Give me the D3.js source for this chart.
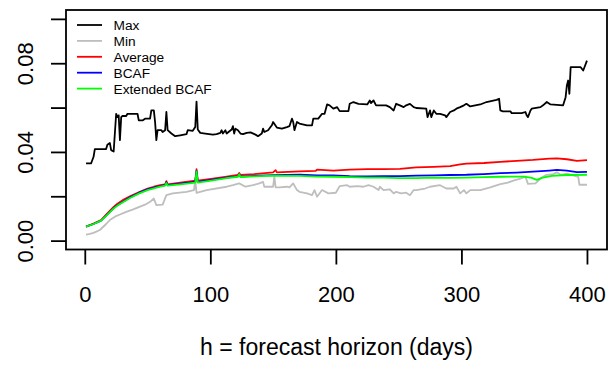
<!DOCTYPE html>
<html>
<head>
<meta charset="utf-8">
<script src="https://cdn.jsdelivr.net/npm/d3@7"></script>
<style>
  body { margin: 0; background: #fff; }
  svg { display: block; font-family: "Liberation Sans", Arial, sans-serif; }
</style>
</head>
<body>
<svg id="chart" width="609" height="369"></svg>
<script>
// values, day -> value
var maxDays = [1, 5, 7, 8, 17, 18, 20, 21, 23, 25, 26, 27, 28, 29, 30, 33, 34, 42, 43, 46, 48, 52, 53, 55, 56, 57, 58, 61, 62, 64, 65, 66, 69, 72, 76, 81, 82, 86, 88, 89, 90, 92, 96, 102, 105, 108, 109, 110, 112, 113, 117, 118, 119, 120, 122, 124, 126, 129, 132, 136, 138, 141, 142, 143, 146, 149, 150, 153, 157, 161, 163, 165, 166, 167, 169, 171, 177, 181, 182, 186, 189, 191, 193, 195, 198, 201, 203, 210, 211, 214, 218, 225, 227, 228, 230, 232, 240, 243, 246, 248, 251, 254, 256, 259, 262, 264, 272, 273, 275, 276, 278, 280, 283, 287, 288, 291, 294, 296, 299, 302, 304, 307, 315, 320, 328, 330, 331, 333, 339, 340, 348, 351, 352, 353, 355, 356, 363, 365, 368, 371, 381, 383, 384, 385, 386, 387, 395, 397, 398, 400];
var maxValues = [0.0348, 0.0348, 0.0378, 0.0413, 0.0413, 0.0432, 0.0440, 0.0408, 0.0402, 0.0572, 0.0557, 0.0565, 0.0453, 0.0557, 0.0562, 0.0562, 0.0572, 0.0572, 0.0542, 0.0542, 0.0550, 0.0550, 0.0587, 0.0587, 0.0535, 0.0453, 0.0498, 0.0498, 0.0490, 0.0498, 0.0580, 0.0498, 0.0483, 0.0471, 0.0475, 0.0480, 0.0498, 0.0495, 0.0512, 0.0627, 0.0501, 0.0486, 0.0483, 0.0478, 0.0480, 0.0486, 0.0498, 0.0483, 0.0498, 0.0483, 0.0501, 0.0516, 0.0483, 0.0505, 0.0498, 0.0483, 0.0480, 0.0486, 0.0488, 0.0478, 0.0471, 0.0483, 0.0505, 0.0490, 0.0498, 0.0520, 0.0535, 0.0510, 0.0505, 0.0512, 0.0516, 0.0550, 0.0535, 0.0498, 0.0535, 0.0528, 0.0520, 0.0520, 0.0550, 0.0550, 0.0572, 0.0572, 0.0614, 0.0610, 0.0595, 0.0602, 0.0584, 0.0584, 0.0617, 0.0625, 0.0617, 0.0614, 0.0632, 0.0620, 0.0632, 0.0610, 0.0610, 0.0602, 0.0587, 0.0617, 0.0610, 0.0602, 0.0610, 0.0617, 0.0602, 0.0598, 0.0595, 0.0557, 0.0587, 0.0557, 0.0587, 0.0572, 0.0572, 0.0565, 0.0557, 0.0580, 0.0587, 0.0595, 0.0602, 0.0610, 0.0617, 0.0605, 0.0614, 0.0625, 0.0635, 0.0640, 0.0587, 0.0583, 0.0583, 0.0575, 0.0575, 0.0580, 0.0565, 0.0557, 0.0587, 0.0595, 0.0602, 0.0610, 0.0625, 0.0614, 0.0610, 0.0647, 0.0700, 0.0722, 0.0662, 0.0782, 0.0782, 0.0767, 0.0782, 0.0812];

var minDays = [1, 4, 7, 12, 17, 20, 24, 28, 33, 38, 44, 48, 52, 55, 57, 62, 65, 70, 81, 87, 88, 89, 97, 113, 118, 123, 128, 134, 139, 142, 143, 150, 151, 152, 155, 161, 163, 166, 169, 171, 177, 181, 183, 185, 189, 194, 200, 203, 209, 211, 217, 222, 226, 230, 234, 235, 238, 243, 246, 248, 252, 256, 259, 262, 264, 271, 275, 283, 288, 294, 296, 299, 302, 304, 307, 315, 323, 331, 337, 342, 347, 351, 353, 359, 363, 367, 373, 376, 379, 384, 389, 393, 394, 400];
var minValues = [0.0027, 0.0030, 0.0035, 0.0048, 0.0075, 0.0093, 0.0108, 0.0118, 0.0130, 0.0140, 0.0153, 0.0162, 0.0175, 0.0190, 0.0160, 0.0162, 0.0205, 0.0213, 0.0220, 0.0228, 0.0275, 0.0215, 0.0228, 0.0243, 0.0250, 0.0258, 0.0243, 0.0250, 0.0258, 0.0265, 0.0243, 0.0243, 0.0290, 0.0240, 0.0240, 0.0243, 0.0240, 0.0258, 0.0228, 0.0220, 0.0213, 0.0205, 0.0228, 0.0198, 0.0228, 0.0213, 0.0216, 0.0246, 0.0250, 0.0243, 0.0246, 0.0243, 0.0250, 0.0243, 0.0228, 0.0243, 0.0228, 0.0231, 0.0213, 0.0220, 0.0213, 0.0216, 0.0205, 0.0228, 0.0228, 0.0235, 0.0243, 0.0250, 0.0235, 0.0235, 0.0243, 0.0213, 0.0228, 0.0213, 0.0228, 0.0228, 0.0240, 0.0255, 0.0262, 0.0272, 0.0280, 0.0288, 0.0256, 0.0258, 0.0280, 0.0295, 0.0300, 0.0308, 0.0297, 0.0302, 0.0294, 0.0288, 0.0252, 0.0252];

var avgDays = [1, 7, 13, 17, 23, 26, 31, 36, 43, 50, 55, 60, 64, 65, 66, 76, 88, 89, 90, 102, 113, 122, 123, 124, 135, 150, 152, 153, 171, 184, 185, 198, 211, 225, 238, 251, 264, 278, 291, 299, 304, 318, 331, 344, 357, 370, 376, 384, 392, 400];
var avgValues = [0.0063, 0.0077, 0.0093, 0.0117, 0.0152, 0.0166, 0.0185, 0.0200, 0.0218, 0.0235, 0.0243, 0.0250, 0.0254, 0.0268, 0.0254, 0.0261, 0.0270, 0.0322, 0.0270, 0.0280, 0.0289, 0.0297, 0.0305, 0.0296, 0.0300, 0.0308, 0.0318, 0.0308, 0.0312, 0.0315, 0.0320, 0.0316, 0.0320, 0.0322, 0.0322, 0.0324, 0.0330, 0.0333, 0.0336, 0.0344, 0.0347, 0.0350, 0.0355, 0.0360, 0.0364, 0.0370, 0.0371, 0.0367, 0.0360, 0.0363];

var bcafDays = [1, 7, 13, 17, 23, 26, 31, 36, 43, 50, 55, 60, 64, 65, 66, 76, 88, 89, 90, 102, 113, 122, 123, 124, 135, 150, 171, 185, 198, 211, 225, 238, 251, 264, 278, 291, 304, 318, 331, 344, 357, 370, 376, 384, 392, 400];
var bcafValues = [0.0063, 0.0075, 0.0090, 0.0113, 0.0147, 0.0160, 0.0178, 0.0195, 0.0215, 0.0231, 0.0239, 0.0246, 0.0250, 0.0263, 0.0250, 0.0257, 0.0265, 0.0314, 0.0265, 0.0275, 0.0284, 0.0290, 0.0300, 0.0289, 0.0292, 0.0295, 0.0297, 0.0294, 0.0294, 0.0291, 0.0290, 0.0291, 0.0291, 0.0293, 0.0294, 0.0296, 0.0297, 0.0300, 0.0304, 0.0307, 0.0311, 0.0316, 0.0319, 0.0316, 0.0309, 0.0310];

var extDays = [1, 7, 13, 17, 23, 26, 31, 36, 43, 50, 55, 60, 64, 65, 66, 76, 88, 89, 90, 102, 113, 122, 123, 124, 135, 150, 171, 185, 198, 211, 225, 238, 251, 264, 278, 291, 304, 318, 331, 344, 350, 356, 360, 364, 372, 384, 400];
var extValues = [0.0063, 0.0075, 0.0090, 0.0112, 0.0145, 0.0158, 0.0175, 0.0192, 0.0212, 0.0228, 0.0236, 0.0244, 0.0248, 0.0260, 0.0248, 0.0254, 0.0262, 0.0312, 0.0262, 0.0272, 0.0282, 0.0288, 0.0300, 0.0287, 0.0290, 0.0293, 0.0292, 0.0289, 0.0288, 0.0286, 0.0284, 0.0284, 0.0282, 0.0282, 0.0284, 0.0283, 0.0284, 0.0286, 0.0288, 0.0289, 0.0289, 0.0283, 0.0274, 0.0283, 0.0292, 0.0296, 0.0297];

var seriesNames = ["Max", "Min", "Average", "BCAF", "Extended BCAF"];
var seriesColours = ["#000000", "#bebebe", "#ff0000", "#0000ff", "#00ff00"];

var xTicks = [0, 100, 200, 300, 400];
var yTicks = [0, 0.02, 0.04, 0.06, 0.08, 0.10];
var yTickLabels = ["0.00", "", "0.04", "", "0.08", ""];
var xTitle = "h = forecast horizon (days)";

var svg = d3.select("#chart");
var box = {left: 66, right: 607, top: 10, bottom: 249.5};

// R style 4% padding around xlim = c(1, 400), ylim = c(0, 0.1)
var x = d3.scaleLinear().domain([1 - 15.96, 400 + 15.96]).range([box.left, box.right]);
var y = d3.scaleLinear().domain([-0.004, 0.104]).range([box.bottom, box.top]);

function pairs(days, values) {
  return days.map(function(d, i) { return {day: d, value: values[i]}; });
}

var series = [
  pairs(maxDays, maxValues),
  pairs(minDays, minValues),
  pairs(avgDays, avgValues),
  pairs(bcafDays, bcafValues),
  pairs(extDays, extValues)
];

var line = d3.line()
  .x(function(d) { return x(d.day); })
  .y(function(d) { return y(d.value); });

svg.append("g")
  .selectAll("path")
  .data(series)
  .enter().append("path")
  .attr("d", line)
  .attr("fill", "none")
  .attr("stroke", function(d, i) { return seriesColours[i]; })
  .attr("stroke-width", 1.8)
  .attr("stroke-linejoin", "round");

svg.append("rect")
  .attr("x", box.left)
  .attr("y", box.top)
  .attr("width", box.right - box.left)
  .attr("height", box.bottom - box.top)
  .attr("fill", "none")
  .attr("stroke", "#000")
  .attr("stroke-width", 1.8);

// axes, R look: ticks out, no extra domain line
var xAxis = d3.axisBottom(x).tickValues(xTicks).tickSize(15).tickPadding(22).tickFormat(d3.format("d"));
var gx = svg.append("g")
  .attr("transform", "translate(0," + box.bottom + ")")
  .call(xAxis);
gx.select(".domain").remove();
gx.selectAll("line").attr("stroke-width", 1.8);
gx.selectAll("text")
  .attr("font-size", 22)
  .attr("font-family", "'Liberation Sans', Arial, sans-serif")
  .attr("fill", "#000")
  .attr("dy", null)
  .attr("y", 52);

var yAxis = d3.axisLeft(y).tickValues(yTicks).tickSize(15).tickFormat(function(d, i) { return yTickLabels[i]; });
var gy = svg.append("g")
  .attr("transform", "translate(" + box.left + ",0)")
  .call(yAxis);
gy.select(".domain").remove();
gy.selectAll("line").attr("stroke-width", 1.8);
gy.selectAll("text")
  .attr("font-size", 22)
  .attr("font-family", "'Liberation Sans', Arial, sans-serif")
  .attr("fill", "#000")
  .attr("x", null)
  .attr("dy", null)
  .attr("text-anchor", "middle")
  .attr("transform", "translate(-33.5,0) rotate(-90)");

svg.append("text")
  .attr("x", (box.left + box.right) / 2)
  .attr("y", 355)
  .attr("text-anchor", "middle")
  .attr("font-size", 23)
  .text(xTitle);

// legend, no frame
var legend = svg.selectAll(".legend")
  .data(seriesNames)
  .enter().append("g")
  .attr("class", "legend")
  .attr("transform", function(d, i) { return "translate(0," + (25 + i * 15.9) + ")"; });

legend.append("line")
  .attr("x1", 77)
  .attr("x2", 102)
  .attr("stroke", function(d, i) { return seriesColours[i]; })
  .attr("stroke-width", 1.8);

legend.append("text")
  .attr("x", 113.5)
  .attr("dy", "0.36em")
  .attr("font-size", 13.7)
  .text(function(d) { return d; });
</script>
</body>
</html>
